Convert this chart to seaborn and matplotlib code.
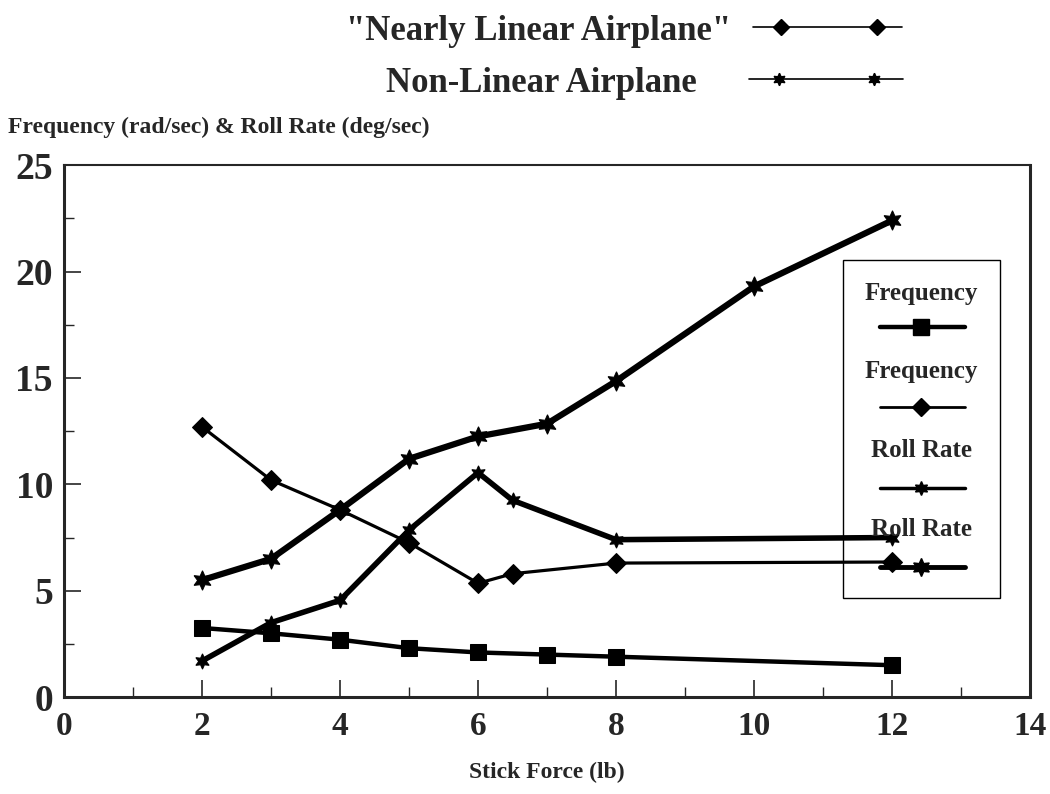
import numpy as np
import pandas as pd
import seaborn as sns
import matplotlib.pyplot as plt
from matplotlib.lines import Line2D
from matplotlib.patches import Rectangle
from matplotlib.ticker import MultipleLocator

# data
x_freq_sq = [2, 3, 4, 5, 6, 7, 8, 12]
y_freq_sq = [3.25, 3.0, 2.7, 2.3, 2.1, 2.0, 1.9, 1.5]

x_freq_dm = [2, 3, 4, 5, 6, 6.5, 8, 12]
y_freq_dm = [12.7, 10.2, 8.8, 7.25, 5.35, 5.8, 6.3, 6.35]

x_roll_lo = [2, 3, 4, 5, 6, 6.5, 8, 12]
y_roll_lo = [1.7, 3.5, 4.55, 7.85, 10.55, 9.25, 7.4, 7.5]

x_roll_hi = [2, 3, 4, 5, 6, 7, 8, 10, 12]
y_roll_hi = [5.5, 6.5, 8.8, 11.2, 12.25, 12.85, 14.85, 19.3, 22.4]

legend_labels = ['Frequency', 'Frequency', 'Roll Rate', 'Roll Rate']
top_labels = ['"Nearly Linear Airplane"', 'Non-Linear Airplane']

sns.set_style('ticks')
plt.rcParams['font.family'] = ['Liberation Serif', 'DejaVu Serif']
plt.rcParams['font.weight'] = 'bold'

star6 = (6, 1, 0)

fig = plt.figure(figsize=(10.5, 7.94), dpi=100)
ax = fig.add_axes([0.061, 0.122, 0.92, 0.670])

sns.lineplot(x=x_freq_sq, y=y_freq_sq, ax=ax, color='black', linewidth=3.2,
             marker='s', markersize=12, markeredgecolor='black')
sns.lineplot(x=x_freq_dm, y=y_freq_dm, ax=ax, color='black', linewidth=2.3,
             marker='D', markersize=10, markeredgecolor='black')
sns.lineplot(x=x_roll_lo, y=y_roll_lo, ax=ax, color='black', linewidth=4,
             marker=star6, markersize=11, markeredgecolor='black')
sns.lineplot(x=x_roll_hi, y=y_roll_hi, ax=ax, color='black', linewidth=4.5,
             marker=star6, markersize=14, markeredgecolor='black')

ax.set_xlim(0, 14)
ax.set_ylim(0, 25)
ax.xaxis.set_major_locator(MultipleLocator(2))
ax.xaxis.set_minor_locator(MultipleLocator(1))
ax.yaxis.set_major_locator(MultipleLocator(5))
ax.yaxis.set_minor_locator(MultipleLocator(2.5))
ax.tick_params(axis='both', which='major', direction='in', length=12, width=1.2, pad=10)
ax.tick_params(axis='both', which='minor', direction='in', length=7, width=1.0)
ax.tick_params(axis='x', which='major', labelsize=24)
ax.tick_params(axis='y', which='major', labelsize=27, pad=8)
for lab in ax.get_xticklabels() + ax.get_yticklabels():
    lab.set_fontweight('bold')
for s in ['left', 'bottom', 'right']:
    ax.spines[s].set_linewidth(2.2)
ax.spines['top'].set_linewidth(1.5)
ax.spines['top'].set_visible(True)
ax.spines['right'].set_visible(True)
ax.set_xlabel('Stick Force (lb)', fontsize=17, fontweight='bold', labelpad=14)
ax.set_ylabel('')
fig.text(0.008, 0.839, 'Frequency (rad/sec) & Roll Rate (deg/sec)', fontsize=17,
         fontweight='bold', va='center', ha='left')

# legend box inside the plot
ax.add_patch(Rectangle((0.806, 0.186), 0.163, 0.635, transform=ax.transAxes,
                       fill=False, edgecolor='black', linewidth=1.0))
leg_style = [
    dict(marker='s', markersize=12, linewidth=3.2),
    dict(marker='D', markersize=9, linewidth=2),
    dict(marker=star6, markersize=10, linewidth=2.5),
    dict(marker=star6, markersize=13, linewidth=3.5),
]
text_y = [0.758, 0.613, 0.463, 0.316]
line_y = [0.696, 0.546, 0.394, 0.244]
cx = (921 - 64) / 966
for lab, ty, ly, st in zip(legend_labels, text_y, line_y, leg_style):
    ax.text(cx, ty, lab, transform=ax.transAxes, ha='center', va='center',
            fontsize=18, fontweight='bold')
    ax.add_line(Line2D([cx - 0.043, cx, cx + 0.045], [ly, ly, ly], transform=ax.transAxes,
                       color='black', markevery=[1], markeredgecolor='black', **st))

# legend at the top of the figure
fig.text(0.696, 0.960, top_labels[0], fontsize=25, fontweight='bold', ha='right', va='center')
fig.text(0.664, 0.895, top_labels[1], fontsize=25, fontweight='bold', ha='right', va='center')
fig.add_artist(Line2D([0.717, 0.744, 0.835, 0.859], [0.966] * 4, transform=fig.transFigure,
                      color='black', linewidth=1.2, marker='D', markersize=8, markevery=[1, 2]))
fig.add_artist(Line2D([0.713, 0.742, 0.832, 0.860], [0.900] * 4, transform=fig.transFigure,
                      color='black', linewidth=1.2, marker=star6, markersize=9, markevery=[1, 2]))

plt.savefig('out.png', dpi=100)
